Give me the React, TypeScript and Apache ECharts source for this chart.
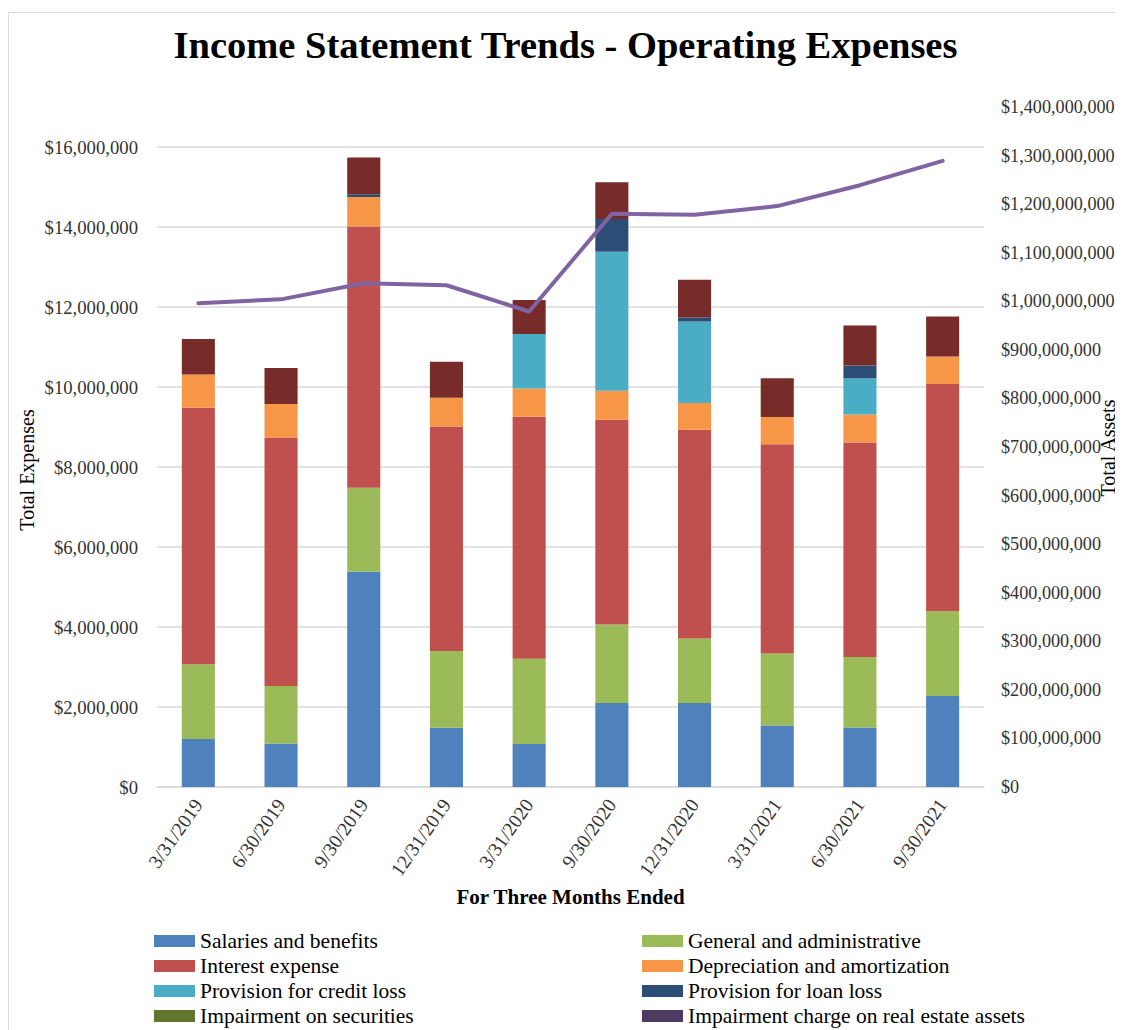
import React, { useEffect, useRef } from 'react';
import * as echarts from 'echarts';

const categories = ['3/31/2019', '6/30/2019', '9/30/2019', '12/31/2019', '3/31/2020', '9/30/2020', '12/31/2020', '3/31/2021', '6/30/2021', '9/30/2021'];
const salaries = [1200000, 1090000, 5380000, 1480000, 1075000, 2100000, 2100000, 1540000, 1490000, 2275000];
const generalAdmin = [1870000, 1435000, 2100000, 1920000, 2130000, 1960000, 1610000, 1800000, 1760000, 2120000];
const interestExpense = [6410000, 6210000, 6530000, 5610000, 6050000, 5120000, 5220000, 5230000, 5360000, 5680000];
const depreciation = [830000, 840000, 740000, 720000, 710000, 725000, 670000, 680000, 700000, 690000];
const creditLoss = [0, 0, 0, 0, 1360000, 3475000, 2040000, 0, 910000, 0];
const loanLoss = [0, 0, 70000, 0, 0, 820000, 100000, 0, 320000, 0];
const impairmentSecurities = [0, 0, 0, 0, 0, 0, 0, 0, 0, 0];
const impairmentRealEstate = [0, 0, 0, 0, 0, 0, 0, 0, 0, 0];
const otherExpenses = [890000, 900000, 920000, 900000, 850000, 920000, 940000, 970000, 995000, 1000000];
const totalAssets = [996000000, 1004000000, 1037000000, 1033000000, 979000000, 1180000000, 1178000000, 1196000000, 1239000000, 1289000000];

const leftTicksMax = 17000000;
const leftInterval = 2000000;
const rightMax = 1400000000;
const rightInterval = 100000000;

const FONT = "'Liberation Serif', 'Times New Roman', serif";
const TXT = '#333333';

const money = (v: number) => '$' + Math.round(v).toLocaleString('en-US');

export default function App() {
  const ref = useRef<HTMLDivElement>(null);
  useEffect(() => {
    if (!ref.current) return;
    const chart = echarts.init(ref.current, null, { renderer: 'svg' });
    const barSeries = [
      { name: 'Salaries and benefits', data: salaries, color: '#4F81BD' },
      { name: 'General and administrative', data: generalAdmin, color: '#9BBB59' },
      { name: 'Interest expense', data: interestExpense, color: '#C0504D' },
      { name: 'Depreciation and amortization', data: depreciation, color: '#F79646' },
      { name: 'Provision for credit loss', data: creditLoss, color: '#4BACC6' },
      { name: 'Provision for loan loss', data: loanLoss, color: '#2C4D75' },
      { name: 'Impairment on securities', data: impairmentSecurities, color: '#5F7530' },
      { name: 'Impairment charge on real estate assets', data: impairmentRealEstate, color: '#4D3B62' },
      { name: 'Other expenses', data: otherExpenses, color: '#772C2A' },
    ].map((s) => ({
      name: s.name,
      type: 'bar',
      stack: 'exp',
      barWidth: '40%',
      data: s.data,
      itemStyle: { color: s.color },
    }));
    const legendCommon = {
      orient: 'vertical',
      icon: 'rect',
      padding: 0,
      height: 200,
      itemWidth: 41,
      itemHeight: 12,
      itemGap: 3,
      textStyle: { fontFamily: FONT, fontSize: 21.5, color: '#000', lineHeight: 22 },
      selectedMode: false,
    };
    chart.setOption({
      animation: false,
      backgroundColor: '#ffffff',
      title: {
        text: 'Income Statement Trends - Operating Expenses',
        left: 'center',
        top: 12,
        textStyle: { fontFamily: FONT, fontSize: 38.5, fontWeight: 'bold', color: '#000' },
      },
      graphic: [
        {
          type: 'rect',
          shape: { x: 0.5, y: 4.5, width: 1300, height: 1200 },
          style: { fill: 'none', stroke: '#d9d9d9', lineWidth: 1 },
          silent: true,
        },
        {
          type: 'text',
          x: 19,
          y: 462,
          rotation: Math.PI / 2,
          style: { text: 'Total Expenses', fontFamily: FONT, fontSize: 20, fill: '#000', align: 'center', verticalAlign: 'middle' },
        },
        {
          type: 'text',
          x: 1100,
          y: 440,
          rotation: Math.PI / 2,
          style: { text: 'Total Assets', fontFamily: FONT, fontSize: 20, fill: '#000', align: 'center', verticalAlign: 'middle' },
        },
      ],
      legend: [
        {
          ...legendCommon,
          left: 146,
          top: 922,
          data: ['Salaries and benefits', 'Interest expense', 'Provision for credit loss', 'Impairment on securities'],
        },
        {
          ...legendCommon,
          left: 634,
          top: 922,
          data: ['General and administrative', 'Depreciation and amortization', 'Provision for loan loss', 'Impairment charge on real estate assets'],
        },
      ],
      grid: { left: 149, right: 139, top: 99, bottom: 243 },
      xAxis: {
        type: 'category',
        data: categories,
        name: 'For Three Months Ended',
        nameLocation: 'middle',
        nameGap: 94,
        nameTextStyle: { fontFamily: FONT, fontSize: 21, fontWeight: 'bold', color: '#000' },
        axisLine: { lineStyle: { color: '#d9d9d9', width: 1.5 } },
        axisTick: { show: false },
        axisLabel: { interval: 0, rotate: 55, fontFamily: FONT, fontSize: 19.5, color: TXT, margin: 14 },
      },
      yAxis: [
        {
          type: 'value',
          min: 0,
          max: leftTicksMax,
          interval: leftInterval,
          axisLine: { show: false },
          axisTick: { show: false },
          axisLabel: { formatter: money, fontFamily: FONT, fontSize: 18.7, color: TXT, margin: 19, showMaxLabel: false },
          splitLine: { show: true, showMaxLine: false, lineStyle: { color: '#d9d9d9', width: 1.5 } },
        },
        {
          type: 'value',
          position: 'right',
          min: 0,
          max: rightMax,
          interval: rightInterval,
          axisLine: { show: false },
          axisTick: { show: false },
          axisLabel: { formatter: money, fontFamily: FONT, fontSize: 18.2, color: TXT, margin: 17 },
          splitLine: { show: false },
        },
      ],
      series: [
        ...barSeries,
        {
          name: 'Total Assets',
          type: 'line',
          yAxisIndex: 1,
          data: totalAssets,
          symbol: 'none',
          lineStyle: { color: '#8064A2', width: 4, cap: 'round', join: 'round' },
          itemStyle: { color: '#8064A2' },
          z: 5,
        },
      ],
    });
    return () => chart.dispose();
  }, []);
  return <div ref={ref} style={{ width: 1115, height: 1022 }} />;
}
